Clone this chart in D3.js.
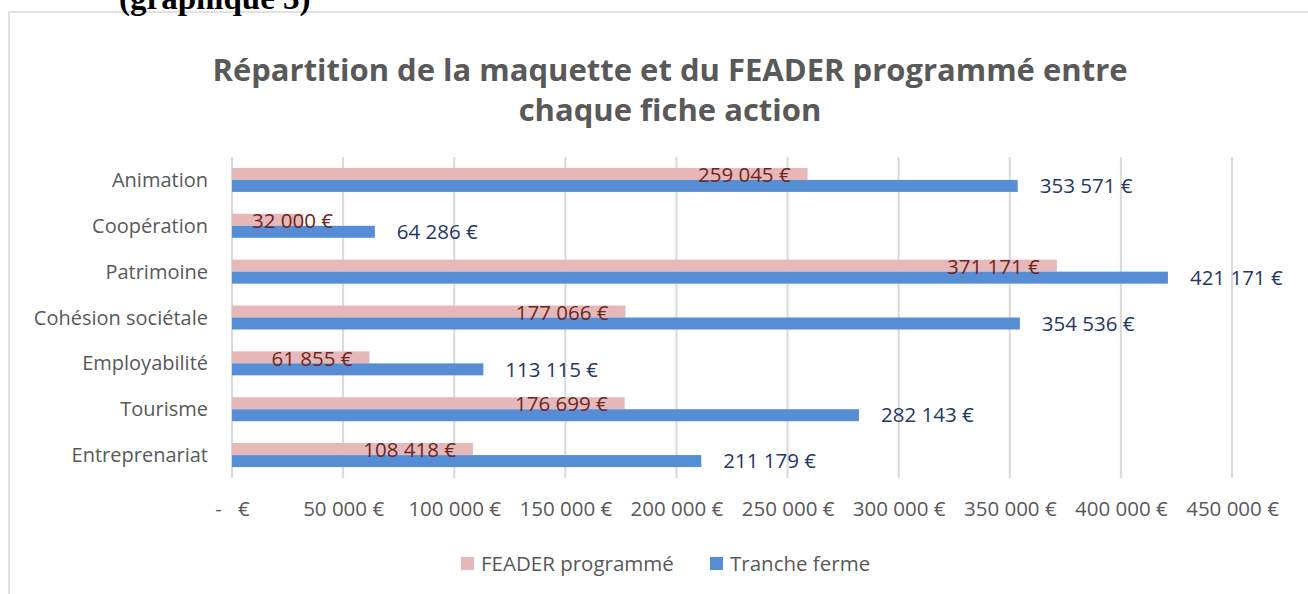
<!DOCTYPE html>
<html><head><meta charset="utf-8">
<script src="https://cdn.jsdelivr.net/npm/d3@7"></script>
<style>
html,body{margin:0;padding:0;background:#fff;}
svg{display:block;}
text{font-family:"Open Sans",sans-serif;}
</style></head>
<body>
<svg id="chart" width="1308" height="594"></svg>
<script>
const categories = ["Animation","Coopération","Patrimoine","Cohésion sociétale","Employabilité","Tourisme","Entreprenariat"];
const feaderProgramme = [259045, 32000, 371171, 177066, 61855, 176699, 108418];
const trancheFerme = [353571, 64286, 421171, 354536, 113115, 282143, 211179];
const tickValues = [0,50000,100000,150000,200000,250000,300000,350000,400000,450000];
const seriesNames = ["FEADER programmé","Tranche ferme"];
const titleLines = ["Répartition de la maquette et du FEADER programmé entre","chaque fiche action"];

const svg = d3.select("#chart");
const colPink = "#e6b9b8", colBlue = "#558ed5";
const fr = v => v === 0 ? "-   €" : d3.format(",")(v).replace(/,/g," ") + " €";

// chart box
svg.append("rect").attr("x",9).attr("y",12).attr("width",1340).attr("height",620)
  .attr("fill","#fff").attr("stroke","#d9d9d9").attr("stroke-width",1.5);

// header text cut off above the chart box
svg.append("text").attr("x",119).attr("y",9)
  .style("font-family","'Liberation Serif',serif").style("font-weight","bold")
  .style("font-size","33px").attr("fill","#000").text("(graphique 3)");

// title
svg.append("g").selectAll("text").data(titleLines).join("text")
  .attr("x",670).attr("y",(d,i)=>81+i*40).attr("text-anchor","middle")
  .style("font-size","31px").style("font-weight","bold").attr("fill","#595959")
  .text(d=>d);

const x = d3.scaleLinear().domain([0,450000]).range([232,1232]);
const y = d3.scaleBand().domain(categories).range([157,478]);
const barH = 12;

// gridlines
svg.append("g").selectAll("line").data(tickValues).join("line")
  .attr("x1",d=>x(d)).attr("x2",d=>x(d)).attr("y1",157).attr("y2",478)
  .attr("stroke","#d9d9d9").attr("stroke-width",2);

// x axis tick labels
const xAxis = d3.axisBottom(x).tickValues(tickValues).tickFormat(fr).tickSize(0).tickPadding(0);
const gx = svg.append("g").attr("transform","translate(0,516)").call(xAxis);
gx.select(".domain").remove();
gx.selectAll("text").style("font-family","'Open Sans',sans-serif").style("font-size","20.5px")
  .attr("fill","#595959").attr("dy","0").style("white-space","pre");

// y axis labels
const yAxis = d3.axisLeft(y).tickSize(0).tickPadding(0);
const gy = svg.append("g").attr("transform","translate(208,0)").call(yAxis);
gy.select(".domain").remove();
gy.selectAll("text").style("font-family","'Open Sans',sans-serif").style("font-size","20px")
  .attr("fill","#595959").attr("dy","0.35em");

const rows = categories.map((c,i)=>({c, f:feaderProgramme[i], t:trancheFerme[i]}));
const mid = c => y(c) + y.bandwidth()/2;

// bars
svg.append("g").selectAll("rect").data(rows).join("rect")
  .attr("x",x(0)).attr("y",d=>mid(d.c)-barH).attr("width",d=>x(d.f)-x(0)).attr("height",barH)
  .attr("fill",colPink);
svg.append("g").selectAll("rect").data(rows).join("rect")
  .attr("x",x(0)).attr("y",d=>mid(d.c)).attr("width",d=>x(d.t)-x(0)).attr("height",barH)
  .attr("fill",colBlue);

// pink labels (inside end)
const pl = svg.append("g").selectAll("text").data(rows).join("text")
  .attr("y",d=>mid(d.c)-barH/2+1).attr("dy","0.35em").attr("text-anchor","start")
  .style("font-size","20.5px").attr("fill","#6e2524").text(d=>fr(d.f));
pl.each(function(d){
  const w = this.getComputedTextLength();
  let left = x(d.f) - 17 - w;
  if (left < x(0)+20) left = x(0)+20;
  d3.select(this).attr("x", left);
});

// blue labels (outside end)
svg.append("g").selectAll("text").data(rows).join("text")
  .attr("x",d=>x(d.t)+22).attr("y",d=>mid(d.c)+barH/2).attr("dy","0.35em")
  .style("font-size","20.5px").attr("fill","#1f3864").text(d=>fr(d.t));

// legend
const leg = svg.append("g");
const legX = [461, 710];
[colPink,colBlue].forEach((c,i)=>{
  leg.append("rect").attr("x",legX[i]).attr("y",557).attr("width",13).attr("height",13).attr("fill",c);
  leg.append("text").attr("x",legX[i]+20).attr("y",563.5).attr("dy","0.35em")
    .style("font-size","20.5px").attr("fill","#595959").text(seriesNames[i]);
});
</script>
</body></html>
